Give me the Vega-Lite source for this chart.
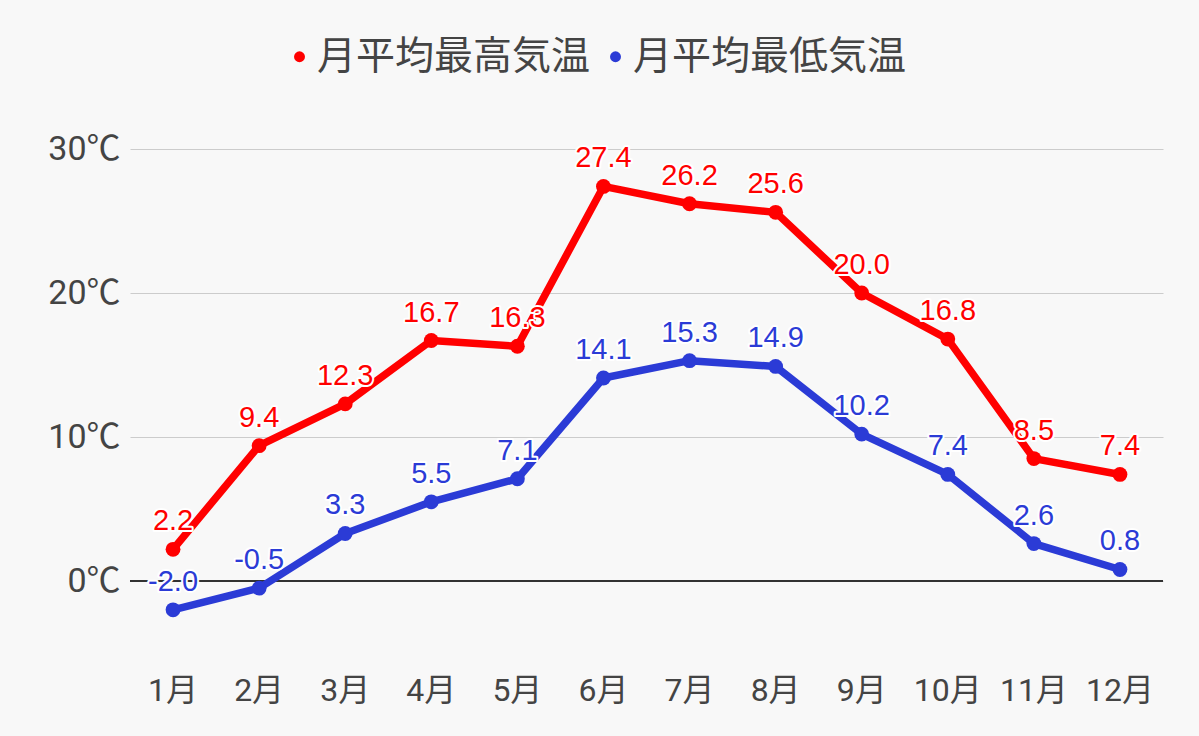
{
  "$schema": "https://vega.github.io/schema/vega-lite/v6.json",
  "width": 1033,
  "height": 576,
  "autosize": {"type": "none"},
  "padding": {"left": 130, "top": 77, "right": 36, "bottom": 83},
  "background": "#f8f8f8",
  "config": {
    "view": {"stroke": null},
    "font": "Roboto, Noto Sans CJK JP, sans-serif"
  },
  "data": {
    "values": [
      {"month": "1月", "series": "月平均最高気温", "temp": 2.2},
      {"month": "2月", "series": "月平均最高気温", "temp": 9.4},
      {"month": "3月", "series": "月平均最高気温", "temp": 12.3},
      {"month": "4月", "series": "月平均最高気温", "temp": 16.7},
      {"month": "5月", "series": "月平均最高気温", "temp": 16.3},
      {"month": "6月", "series": "月平均最高気温", "temp": 27.4},
      {"month": "7月", "series": "月平均最高気温", "temp": 26.2},
      {"month": "8月", "series": "月平均最高気温", "temp": 25.6},
      {"month": "9月", "series": "月平均最高気温", "temp": 20.0},
      {"month": "10月", "series": "月平均最高気温", "temp": 16.8},
      {"month": "11月", "series": "月平均最高気温", "temp": 8.5},
      {"month": "12月", "series": "月平均最高気温", "temp": 7.4},
      {"month": "1月", "series": "月平均最低気温", "temp": -2.0},
      {"month": "2月", "series": "月平均最低気温", "temp": -0.5},
      {"month": "3月", "series": "月平均最低気温", "temp": 3.3},
      {"month": "4月", "series": "月平均最低気温", "temp": 5.5},
      {"month": "5月", "series": "月平均最低気温", "temp": 7.1},
      {"month": "6月", "series": "月平均最低気温", "temp": 14.1},
      {"month": "7月", "series": "月平均最低気温", "temp": 15.3},
      {"month": "8月", "series": "月平均最低気温", "temp": 14.9},
      {"month": "9月", "series": "月平均最低気温", "temp": 10.2},
      {"month": "10月", "series": "月平均最低気温", "temp": 7.4},
      {"month": "11月", "series": "月平均最低気温", "temp": 2.6},
      {"month": "12月", "series": "月平均最低気温", "temp": 0.8}
    ]
  },
  "transform": [
    {"calculate": "replace(format(datum.temp, '.1f'), '\u2212', '-')", "as": "label"}
  ],
  "encoding": {
    "x": {
      "field": "month",
      "type": "ordinal",
      "sort": null,
      "scale": {"type": "band", "paddingInner": 0, "paddingOuter": 0},
      "axis": {
        "title": null,
        "labelAngle": 0,
        "labelFontSize": 32,
        "labelColor": "#444444",
        "labelPadding": 22,
        "ticks": false,
        "domain": false,
        "grid": false,
        "labelFont": "Roboto, Noto Sans CJK JP"
      }
    },
    "y": {
      "field": "temp",
      "type": "quantitative",
      "scale": {"domain": [-5, 35], "nice": false, "zero": false},
      "axis": {
        "title": null,
        "values": [0, 10, 20, 30],
        "labelExpr": "datum.value + '℃'",
        "labelFontSize": 34,
        "labelColor": "#444444",
        "labelPadding": 10,
        "ticks": false,
        "domain": false,
        "gridColor": "#cccccc",
        "gridWidth": 1,
        "labelFont": "Roboto, Noto Sans CJK JP"
      }
    },
    "color": {
      "field": "series",
      "type": "nominal",
      "scale": {
        "domain": ["月平均最高気温", "月平均最低気温"],
        "range": ["#ff0000", "#2b3bd6"]
      },
      "legend": {
        "title": null,
        "orient": "none",
        "direction": "horizontal",
        "legendX": 150,
        "legendY": -40,
        "symbolType": "circle",
        "symbolSize": 120,
        "labelFontSize": 39,
        "labelLimit": 0,
        "labelColor": "#444444",
        "labelFont": "Noto Sans CJK JP",
        "columnPadding": 5,
        "labelOffset": -2,
        "symbolStrokeWidth": 0
      }
    }
  },
  "layer": [
    {
      "mark": {"type": "rule", "color": "#333333", "strokeWidth": 1},
      "encoding": {"y": {"datum": 0}, "x": null, "color": null}
    },
    {
      "mark": {"type": "line", "strokeWidth": 7.5, "strokeJoin": "round"}
    },
    {
      "mark": {"type": "point", "filled": true, "size": 220, "opacity": 1}
    },
    {
      "mark": {"type": "text", "fontSize": 29, "font": "Liberation Sans", "dy": -28, "baseline": "middle", "stroke": "#ffffff", "strokeWidth": 4, "strokeJoin": "round"},
      "encoding": {"text": {"field": "label", "type": "nominal"}}
    },
    {
      "mark": {"type": "text", "fontSize": 29, "font": "Liberation Sans", "dy": -28, "baseline": "middle"},
      "encoding": {"text": {"field": "label", "type": "nominal"}}
    }
  ]
}
